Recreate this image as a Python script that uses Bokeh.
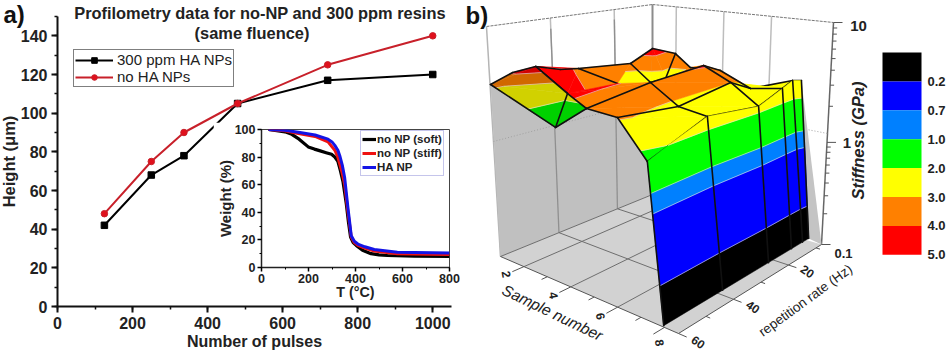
import math
from bokeh.embed import file_html
from bokeh.resources import INLINE
from bokeh.plotting import figure
from bokeh.layouts import Row
from bokeh.core.properties import value
from bokeh.models import (Range1d, SingleIntervalTicker, Legend, LegendItem, ColumnDataSource)

FONT = "Liberation Sans"

# ---------- panel a data ----------
pulses = [125, 250, 337, 480, 720, 1000]
height_ha = [42, 68, 78, 105, 117, 120]
height_no = [48, 75, 90, 105, 125, 140]

# ---------- inset data ----------
t_soft = [30, 100, 129, 160, 199, 225, 250, 275, 298, 312, 325, 336, 347, 361, 370, 379, 390, 403, 430, 466, 500, 536, 650, 800]
w_soft = [100, 98.3, 96.5, 93, 87.4, 85.8, 84.5, 83.2, 82, 80, 77, 70, 62, 46, 33, 22, 18, 16, 12.5, 10, 9.2, 8.7, 8.2, 8]
t_stiff = [30, 100, 157, 228, 283, 312, 325, 333, 344, 354, 368, 382, 395, 410, 440, 480, 578, 800]
w_stiff = [100, 99, 97, 95, 91, 85, 80, 75, 68, 60, 40, 22, 18, 16, 14, 12, 10, 9.5]
t_ha = [30, 100, 157, 228, 283, 300, 312, 325, 333, 344, 354, 368, 382, 395, 410, 440, 480, 578, 800]
w_ha = [100, 99.4, 98, 96, 93, 91, 88.5, 85, 81, 74, 65, 43, 23, 19, 17, 15, 13, 11, 10.5]

# ---------- panel b data: sample number, repetition rate (Hz), stiffness (GPa) ----------
mesh_names = ["a","b","c","h0","h","h2","e1","e2","d","f1","f2","p7","q1","q2","q3","q4","q5","q6",
              "q7","g2","g","o","r3","r4","p","i1","i2","i3","j","k","l","m","n"]
mesh_sample = [1.11,1.58,2.11,3.63,2.24,1.84,1.76,4.86,2.49,2.86,5.56,6.42,7.91,7.65,7.66,7.50,7.44,7.62,
               6.58,4.85,3.07,5.16,6.01,6.94,4.86,2.49,4.75,4.05,2.18,2.54,2.56,3.31,3.63]
mesh_rate = [60.6,56.6,52.9,55.5,40.5,37.7,40.9,61.9,50.4,42.9,61.1,57.6,59.5,38.7,23.1,14.7,11.2,9.8,
             40.1,36.5,23.9,22.3,20.0,20.5,15.0,30.2,45.9,41.1,23.7,19.3,12.3,20.9,15.4]
mesh_stiff = [3.2,4.1,4.7,5.4,3.9,3.6,2.2,4.3,1.4,1.9,3.5,3.1,1.75,2.56,2.27,2.7,2.95,2.9,
              2.85,3.6,2.45,4.15,3.0,2.9,3.2,2.5,4.05,3.5,3.4,4.6,3.7,2.6,3.1]

back_faces = [("k","j","g"),("k","g","m"),("k","m","l"),("l","m","n"),("n","m","o"),("n","p","o"),
              ("j","g","i1"),("h2","j","i3"),("c","h0","h"),("c","h","e2"),("e2","h","i3"),
              ("r4","q5","q4")]
back_edges = [("h0","h"),("c","h0"),("h2","j"),("j","k"),("k","l"),("l","n"),("j","g"),("l","m"),("m","g"),
              ("h","i3"),("c","e2"),("n","p"),("r4","q5")]
front_faces = [("e2","i2","g2"),("e2","g2","f2"),("f2","g2","q7"),("f2","q7","p7"),("g2","o","r3"),("g2","r3","q7"),
               ("o","p","r4"),("o","r4","r3"),("r3","r4","q4"),("r3","q4","q3"),("q7","r3","q3"),("q7","q3","q2"),
               ("p7","q7","q2"),("p7","q2","q1")]
front_edges = [("f2","g2"),("g2","o"),("o","p"),("o","r3"),("r3","r4"),("p","r4"),("r4","q4"),("q4","q3"),("r3","q3"),
               ("g2","q7"),("q7","r3"),("q7","q2"),("p7","q7"),("f2","p7"),("p7","q1"),("q1","q2"),("q2","q3"),
               ("q4","q5"),("q5","q6")]
dark_faces = [("a","b","c"),("a","c","e1"),("a","e1","d"),("d","f1","e1")]
dark_edges = [("a","b"),("b","c"),("a","d"),("d","f1"),("d","e1"),("e1","f1"),("e1","c"),("f1","f2")]
wall_edge = ["a","d","f1","p7","q1"]
face_row = ["q1","q2","q3","q4","q5","q6"]
face_foot_sample = 7.91
face_foot_rate = [59.5, 38.2, 21.6, 13.3, 9.3, 7.1]

cb_levels = [0.1, 0.2, 0.7, 1.0, 2.0, 3.0, 4.0, 5.0, 1000]
cb_colors = ["#000000", "#0000ff", "#0080ff", "#00ff00", "#ffff00", "#ff8000", "#ff0000", "#ffffff"]
cb_labels = ["0.2", "0.7", "1.0", "2.0", "3.0", "4.0", "5.0"]
sample_ticks = [2, 4, 6, 8]
sample_minor = [3, 5, 7]
rate_ticks = [60, 40, 20]
rate_minor = [50, 30, 10]
stiff_major = [0.1, 1, 10]
stiff_minor = [0.2,0.3,0.4,0.5,0.6,0.7,0.8,0.9,2,3,4,5,6,7,8,9]

# ---------- projection of the 3D box onto the picture ----------
FL, FF, FR, FB = (500,256), (678,333), (821,244), (652,194)
TL, TF, TR, TB = (486,26), (650,65), (833,22), (652,4)
def proj(s, r, lz):
    u = (s-1)/7.6; v = (60-r)/52; w = (lz+1)/2
    def bl(a,b,c,d,i):
        return (1-u)*(1-v)*a[i]+u*(1-v)*b[i]+u*v*c[i]+(1-u)*v*d[i]
    x0,y0 = bl(FL,FF,FR,FB,0), bl(FL,FF,FR,FB,1)
    x1,y1 = bl(TL,TF,TR,TB,0), bl(TL,TF,TR,TB,1)
    return x0+(x1-x0)*w, y0+(y1-y0)*w
S0, S1, R0, R1 = 1.0, 8.6, 60.0, 8.0
vtx = {n:(s,r,math.log10(z)) for n,s,r,z in zip(mesh_names,mesh_sample,mesh_rate,mesh_stiff)}

def clip(poly, level, keep_above):
    out = []
    n = len(poly)
    for i in range(n):
        a, b = poly[i], poly[(i+1)%n]
        ina = (a[2] >= level) if keep_above else (a[2] <= level)
        inb = (b[2] >= level) if keep_above else (b[2] <= level)
        if ina: out.append(a)
        if ina != inb:
            t = (level-a[2])/(b[2]-a[2])
            out.append(tuple(a[k]+t*(b[k]-a[k]) for k in range(3)))
    return out
def shade(col, f):
    r,g,b = int(col[1:3],16), int(col[3:5],16), int(col[5:7],16)
    return "#%02x%02x%02x" % (int(r*f), int(g*f), int(b*f))

def draw_polys(p, polys, edges_xy, factor=1.0):
    xs, ys, cols = [], [], []
    cx, cy = [], []
    lv = [math.log10(z) for z in cb_levels]
    for poly in polys:
        for k,col in enumerate(cb_colors):
            c = clip(clip(poly, lv[k], True), lv[k+1], False)
            if len(c) >= 3:
                pts = [proj(*q) for q in c]
                xs.append([q[0] for q in pts]); ys.append([q[1] for q in pts])
                cols.append(shade(col, factor))
        for L in lv[1:8]:
            seg = []
            n = len(poly)
            for i in range(n):
                a,b = poly[i], poly[(i+1)%n]
                if (a[2]-L)*(b[2]-L) < 0:
                    t = (L-a[2])/(b[2]-a[2])
                    seg.append(proj(*[a[m]+t*(b[m]-a[m]) for m in range(3)]))
            if len(seg) == 2:
                cx.append([seg[0][0],seg[1][0]]); cy.append([seg[0][1],seg[1][1]])
    p.patches("x","y",source=ColumnDataSource(dict(x=xs,y=ys,c=cols)),fill_color="c",line_color="c",line_width=0.5)
    if cx:
        p.multi_line(cx,cy,line_color="#e4e4e4",line_width=0.8,line_alpha=0.75)
    if edges_xy:
        p.multi_line([e[0] for e in edges_xy],[e[1] for e in edges_xy],line_color="#111111",line_width=1.6,line_join="round",line_cap="round")

def exy(pairs):
    res = []
    for a,b in pairs:
        A,B = proj(*vtx[a]), proj(*vtx[b])
        res.append(([A[0],B[0]],[A[1],B[1]]))
    return res

# ---------- panel a ----------
pa = figure(width=465, height=353, x_range=Range1d(0,1050), y_range=Range1d(0,150), toolbar_location=None,
            output_backend="svg", min_border_left=62, min_border_right=9, min_border_top=16, min_border_bottom=47,
            outline_line_color=None, frame_align=False)
pa.styles = {"margin-left":"-5px"}
pa.grid.visible = False
for ax,intv in ((pa.xaxis[0],200),(pa.yaxis[0],20)):
    ax.ticker = SingleIntervalTicker(interval=intv, num_minor_ticks=2)
    ax.axis_line_width = 2; ax.axis_line_color = "#111111"
    ax.major_tick_line_width = 2; ax.major_tick_out = 6; ax.major_tick_in = 0
    ax.minor_tick_line_width = 1.5; ax.minor_tick_out = 3; ax.minor_tick_in = 0
    ax.major_tick_line_color = "#111111"; ax.minor_tick_line_color = "#111111"
    ax.major_label_text_font = FONT; ax.major_label_text_font_style = "bold"
    ax.major_label_text_font_size = "16px"; ax.major_label_text_color = "#222222"
    ax.axis_label_text_font = FONT; ax.axis_label_text_font_style = "bold"
    ax.axis_label_text_color = "#222222"
    ax.major_label_standoff = 4
pa.xaxis[0].axis_label = "Number of pulses"
pa.xaxis[0].axis_label_text_font_size = "16px"
pa.xaxis[0].axis_label_standoff = 1
pa.yaxis[0].axis_label = "Height (μm)"
pa.yaxis[0].axis_label_text_font_size = "16.5px"
pa.yaxis[0].axis_label_standoff = 0

l1 = pa.line(pulses, height_ha, line_color="#000000", line_width=2)
m1 = pa.scatter(pulses, height_ha, marker="square", size=6.5, fill_color="#000000", line_color="#000000")
l2 = pa.line(pulses, height_no, line_color="#c8202a", line_width=2)
m2 = pa.scatter(pulses, height_no, marker="circle", size=6.5, fill_color="#e0101c", line_color="#c8202a")
leg = Legend(items=[LegendItem(label="300 ppm HA NPs", renderers=[l1,m1]), LegendItem(label="no HA NPs", renderers=[l2,m2])],
             location=(16,219), border_line_color="#000000", border_line_width=1, background_fill_alpha=1,
             label_text_font=FONT, label_text_font_size="15px", label_text_color="#222222",
             glyph_width=38, glyph_height=14, label_standoff=4, padding=1, spacing=0, margin=0, label_height=17)
pa.add_layout(leg)

# ---------- texts above panel a's frame ----------
ov = figure(width=460, height=44, x_range=Range1d(0,460), y_range=Range1d(44,0), toolbar_location=None,
            output_backend="svg", min_border=0, outline_line_color=None, x_axis_location=None, y_axis_location=None,
            background_fill_color=None, border_fill_color=None, frame_align=False)
ov.grid.visible = False
ov.styles = {"position":"absolute","left":"0px","top":"0px","z-index":"5","pointer-events":"none"}
title_lines = ["Profilometry data for no-NP and 300 ppm resins", "(same fluence)"]
for s_,xv,yv in zip(title_lines,(259.5,251.5),(12,32)):
    ov.text([xv],[yv],text=[s_],text_align="center",text_baseline="middle",text_font=value(FONT),
            text_font_style="bold",text_font_size="16.4px",text_color="#222222")
ov.text([3],[14],text=["a)"],text_align="left",text_baseline="middle",text_font=value(FONT),
        text_font_style="bold",text_font_size="24px",text_color="#111111")

# ---------- inset ----------
ins = figure(width=247, height=180, x_range=Range1d(0,800), y_range=Range1d(0,100), toolbar_location=None,
             output_backend="svg", min_border_left=46, min_border_right=11, min_border_top=7, min_border_bottom=33,
             outline_line_color="#444444", outline_line_width=1, background_fill_color="#ffffff", border_fill_color="#ffffff",
             frame_align=False)
ins.grid.visible = False
for ax in (ins.xaxis[0], ins.yaxis[0]):
    ax.axis_line_width = 1.5; ax.axis_line_color = "#222222"
    ax.major_tick_line_width = 1.5; ax.major_tick_out = 4; ax.major_tick_in = 0
    ax.minor_tick_line_width = 1; ax.minor_tick_out = 2; ax.minor_tick_in = 0
    ax.major_label_text_font = FONT; ax.major_label_text_font_style = "bold"
    ax.major_label_text_font_size = "12.5px"; ax.major_label_text_color = "#222222"
    ax.axis_label_text_font = FONT; ax.axis_label_text_font_style = "bold"
    ax.axis_label_text_color = "#222222"
    ax.major_label_standoff = 2
ins.xaxis[0].ticker = SingleIntervalTicker(interval=200, num_minor_ticks=2)
ins.yaxis[0].ticker = SingleIntervalTicker(interval=20, num_minor_ticks=2)
ins.xaxis[0].axis_label = "T (°C)"; ins.xaxis[0].axis_label_text_font_size = "14.3px"; ins.xaxis[0].axis_label_standoff = -2
ins.yaxis[0].axis_label = "Weight (%)"; ins.yaxis[0].axis_label_text_font_size = "15px"; ins.yaxis[0].axis_label_standoff = -2
r1 = ins.line(t_soft, w_soft, line_color="#000000", line_width=3.2)
r2 = ins.line(t_stiff, w_stiff, line_color="#ee1111", line_width=3)
r3 = ins.line(t_ha, w_ha, line_color="#1414e6", line_width=3)
leg2 = Legend(items=[LegendItem(label="no NP (soft)", renderers=[r1]), LegendItem(label="no NP (stiff)", renderers=[r2]),
                     LegendItem(label="HA NP", renderers=[r3])],
              location=(99,91), border_line_color="#8c8cd8", border_line_width=1, background_fill_alpha=1,
              label_text_font=FONT, label_text_font_size="11.5px", label_text_font_style="bold", label_text_color="#222222",
              glyph_width=14, glyph_height=12, label_standoff=1, padding=1, spacing=0, margin=0, label_height=14)
ins.add_layout(leg2)
ins.styles = {"position":"absolute","left":"213px","top":"122px","z-index":"4"}

# ---------- panel b ----------
pb = figure(width=489, height=353, x_range=Range1d(460,949), y_range=Range1d(353,0), toolbar_location=None,
            output_backend="svg", min_border=0, outline_line_color=None, x_axis_location=None, y_axis_location=None,
            frame_align=False)
pb.grid.visible = False

def seg(pairs, **kw):
    xs, ys = [], []
    for a,b in pairs:
        A,B = proj(*a), proj(*b)
        xs.append([A[0],B[0]]); ys.append([A[1],B[1]])
    pb.multi_line(xs, ys, **kw)

# back walls grid (white)
seg([((S0,r,-1),(S0,r,1)) for r in rate_ticks[1:]] + [((s,R1,-1),(s,R1,1)) for s in sample_ticks[:3]],
    line_color="#bdbdbd", line_width=1.5)
seg([((S0,R0,1),(S0,R1,1)),((S0,R1,1),(S1,R1,1))], line_color="#777777", line_width=1, line_dash="3 1")
seg([((S0,R0,-1),(S0,R0,1))], line_color="#b5b5b5", line_width=1.5)
seg([((S0,R1,-1),(S0,R1,1))], line_color="#8c8c8c", line_width=2)
seg([((S1,R1,-1),(S1,R1,1))], line_color="#666666", line_width=1.5)
# floor
fx, fy = zip(*[proj(S0,R0,-1),proj(S1,R0,-1),proj(S1,R1,-1),proj(S0,R1,-1)])
pb.patch(list(fx),list(fy),fill_color="#d2d2d2",line_color=None)
seg([((s,R0,-1),(s,R1,-1)) for s in sample_ticks[:3]] + [((S0,r,-1),(S1,r,-1)) for r in rate_ticks[1:]],
    line_color="#6e6e6e", line_width=1)
# gray wall under the surface's rate=60 side
wp = [proj(*vtx[n]) for n in wall_edge] + [proj(S0,R1,-1), proj(S0,R0,-1)]
pb.patch([q[0] for q in wp],[q[1] for q in wp],fill_color="#c0c0c0",line_color=None)
seg([((S0,r,-1),(S0,r,0.9)) for r in rate_ticks[1:]], line_color="#8f8f8f", line_width=1.3)
seg([((S0,R0,0),(S0,R1,0)),((S0,R1,0),(S1,R1,0))], line_color="#a0a0a0", line_width=1, line_dash="1 2")
seg([((S0,R0,-1),(S0,R1,-1))], line_color="#6e6e6e", line_width=1)
# sliver on the far side
q6 = vtx["q6"]
sp = [proj(*q6), proj(face_foot_sample,face_foot_rate[-1],-1), proj(S1,R1,-1)]
pb.patch([q[0] for q in sp],[q[1] for q in sp],fill_color="#c4c4c4",line_color=None)

# surface
draw_polys(pb, [[vtx[n] for n in f] for f in back_faces], exy(back_edges))
draw_polys(pb, [[vtx[n] for n in f] for f in front_faces], exy(front_edges))
draw_polys(pb, [[vtx[n] for n in f] for f in dark_faces], exy(dark_edges), factor=0.82)
# front face (sample 8) down to the floor
wall_polys = []
vert = []
for i in range(len(face_row)-1):
    A,B = vtx[face_row[i]], vtx[face_row[i+1]]
    wall_polys.append([A,B,(face_foot_sample,face_foot_rate[i+1],-1),(face_foot_sample,face_foot_rate[i],-1)])
for n,rf in zip(face_row,face_foot_rate):
    T,Bt = proj(*vtx[n]), proj(face_foot_sample,rf,-1)
    vert.append(([T[0],Bt[0]],[T[1],Bt[1]]))
draw_polys(pb, wall_polys, vert)

# axes of the 3D box
seg([((S0,R0,-1),(S1,R0,-1)),((S1,R0,-1),(S1,R1,-1))], line_color="#555555", line_width=1)
seg([((s,R0,-1),(s,R0+4,-1)) for s in sample_ticks] , line_color="#555555", line_width=1)
seg([((s,R0,-1),(s,R0+2,-1)) for s in sample_minor], line_color="#555555", line_width=1)
seg([((S1,r,-1),(S1+0.35,r,-1)) for r in rate_ticks], line_color="#555555", line_width=1)
seg([((S1,r,-1),(S1+0.18,r,-1)) for r in rate_minor], line_color="#555555", line_width=1)
def zpos(z):
    lz = math.log10(z)
    w = 0.46*(lz+1) if lz < 0 else 0.46+0.54*lz
    return proj(S1,R1,2*w-1)
pb.multi_line([[zpos(z)[0],zpos(z)[0]+9] for z in stiff_major],[[zpos(z)[1],zpos(z)[1]] for z in stiff_major],line_color="#555555",line_width=1)
pb.multi_line([[zpos(z)[0],zpos(z)[0]+4] for z in stiff_minor],[[zpos(z)[1],zpos(z)[1]] for z in stiff_minor],line_color="#555555",line_width=1)

def txt(x,y,s,size,style="normal",angle=0,align="center",color="#222222"):
    pb.text([x],[y],text=[s],text_font=value(FONT),text_font_size=size,text_font_style=style,angle=angle,
            text_align=align,text_baseline="middle",text_color=color)
for s in sample_ticks:
    q = proj(s+(0.5 if s==8 else 0),R0+6,-1)
    txt(q[0],q[1],str(s),"12px","bold",-1.4)
for r in rate_ticks:
    q = proj(S1+0.85,r,-1)
    txt(q[0],q[1],str(r),"12px","bold",-0.6)
for z,sz in zip(stiff_major,("13px","15px","15px")):
    q = zpos(z)
    txt(q[0]+ (22 if z==0.1 else 20 if z==1 else 25), q[1]+ (9 if z==0.1 else 1 if z==1 else 3), str(z), sz, "bold")
txt(552,312,"Sample number","15.5px","italic",-0.45)
txt(805,300,"repetition rate (Hz)","13.5px","normal",0.63)
txt(857,140,"Stiffness (GPa)","16.5px","bold italic",math.pi/2)
txt(465,15,"b)","24px","bold",0,"left","#111111")

# colour legend
n = len(cb_labels)
top, h = 52.0, 28.9
tops = [top+i*h for i in range(n)]
pb.quad(left=882, right=921, top=tops, bottom=[t+h for t in tops], fill_color=cb_colors[:n], line_color=None)
for i,lab in enumerate(cb_labels):
    txt(927, tops[i]+h, lab, "13px", "bold", 0, "left")

page = Row(children=[pa, pb, ins, ov], spacing=0, styles={"position":"relative"})
open("out.html","w").write(file_html(page, INLINE))
